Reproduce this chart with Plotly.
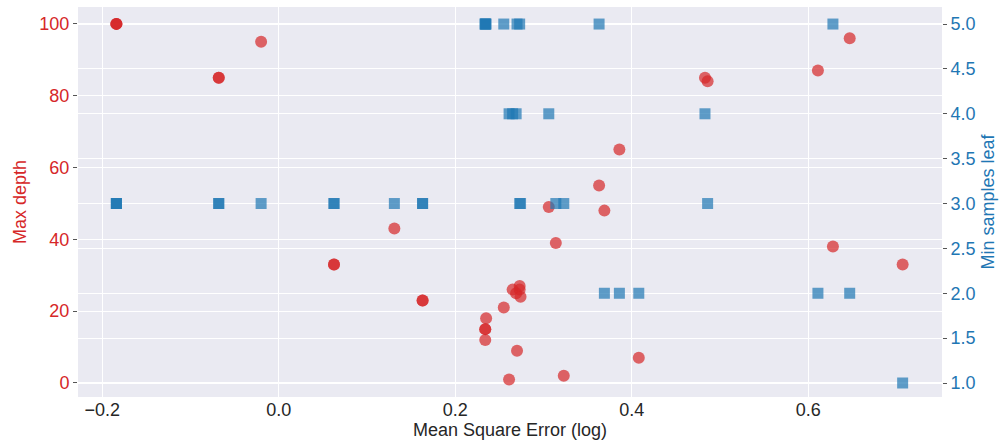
import plotly.graph_objects as go

# Each run: mean square error (log), max depth, min samples leaf
mse = [-0.184, -0.184, -0.184, -0.068, -0.068, -0.020, 0.0626, 0.0626, 0.131, 0.163, 0.163,
       0.234, 0.234, 0.235, 0.234, 0.255, 0.261, 0.265, 0.269, 0.270, 0.273, 0.273, 0.274,
       0.306, 0.314, 0.323, 0.363, 0.369, 0.386, 0.408, 0.483, 0.486, 0.611, 0.628, 0.647, 0.707]
max_depth = [100, 100, 100, 85, 85, 95, 33, 33, 43, 23, 23,
             15, 15, 18, 12, 21, 1, 26, 25, 9, 27, 26, 24,
             49, 39, 2, 55, 48, 65, 7, 85, 84, 87, 38, 96, 33]
min_samples_leaf = [3, 3, 3, 3, 3, 3, 3, 3, 3, 3, 3,
                    5, 5, 5, 5, 5, 4, 4, 4, 5, 5, 3, 3,
                    4, 3, 3, 5, 2, 2, 2, 4, 3, 2, 5, 2, 1]

x_ticks = [-0.2, 0.0, 0.2, 0.4, 0.6]
left_ticks = [0, 20, 40, 60, 80, 100]
right_ticks = [1.0, 1.5, 2.0, 2.5, 3.0, 3.5, 4.0, 4.5, 5.0]

RED = "#d62728"
BLUE = "#1f77b4"
FONT = "Liberation Sans, Arial, sans-serif"
FS = 18

fig = go.Figure()
fig.add_trace(go.Scatter(
    x=mse, y=max_depth, mode="markers", yaxis="y",
    marker=dict(symbol="circle", size=12, color=RED, opacity=0.7, line=dict(width=0)),
    showlegend=False))
fig.add_trace(go.Scatter(
    x=mse, y=min_samples_leaf, mode="markers", yaxis="y2",
    marker=dict(symbol="square", size=11, color=BLUE, opacity=0.7, line=dict(width=0)),
    showlegend=False))

fig.update_layout(
    width=1001, height=445,
    margin=dict(l=78, r=59, t=7, b=48),
    paper_bgcolor="white", plot_bgcolor="#EAEAF2",
    font=dict(family=FONT, size=FS, color="#262626"),
    xaxis=dict(
        range=[-0.2275, 0.7516], tickvals=x_ticks, tickformat=".1f",
        showgrid=True, gridcolor="white", gridwidth=1, zeroline=False,
        showline=False, ticks="", tickfont=dict(size=FS, color="#262626"),
        title=dict(text="Mean Square Error (log)", font=dict(size=FS, color="#262626"), standoff=3),
    ),
    yaxis=dict(
        range=[-3.9, 104.7], tickvals=left_ticks,
        showgrid=True, gridcolor="white", gridwidth=1, zeroline=False,
        showline=False, ticks="outside", ticklen=4, tickcolor="#555555",
        tickfont=dict(size=FS, color=RED),
        title=dict(text="Max depth", font=dict(size=FS, color=RED), standoff=8),
    ),
    yaxis2=dict(
        range=[0.844, 5.19], tickvals=right_ticks, tickformat=".1f",
        overlaying="y", side="right",
        showgrid=True, gridcolor="white", gridwidth=1, zeroline=False,
        showline=False, ticks="outside", ticklen=4, tickcolor="#555555",
        tickfont=dict(size=FS, color=BLUE),
        title=dict(text="Min samples leaf", font=dict(size=FS, color=BLUE), standoff=6),
    ),
)

fig.write_html("out.html",
               config={"displayModeBar": False},
               post_script="document.body.style.margin='0';document.body.style.overflow='hidden';")
